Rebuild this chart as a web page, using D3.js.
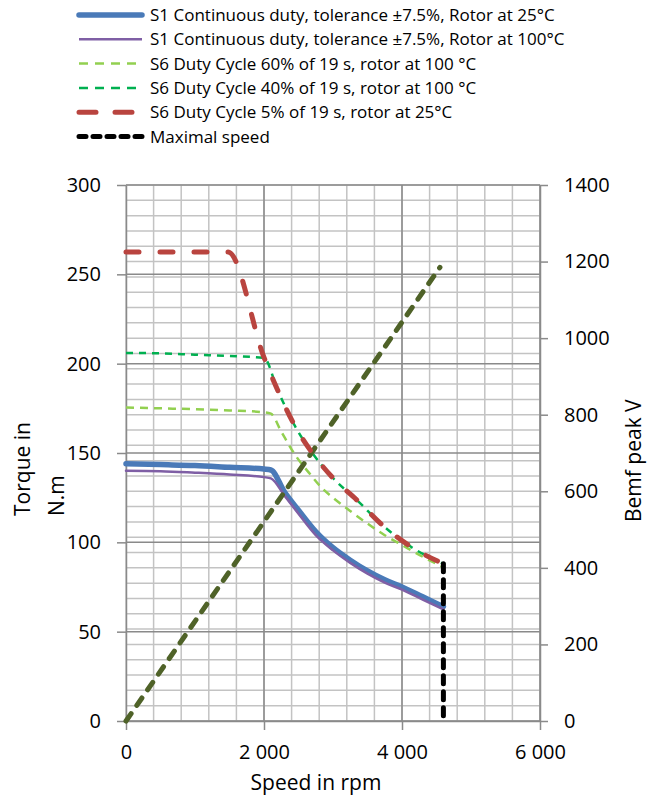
<!DOCTYPE html>
<html>
<head>
<meta charset="utf-8">
<script src="https://cdn.jsdelivr.net/npm/d3@7"></script>
<style>
  body { margin: 0; background: #fff; }
  text { font-family: "Open Sans", sans-serif; fill: #000; }
</style>
</head>
<body>
<div id="chart"></div>
<script>
// S1 continuous duty, rotor at 25°C
const s1ColdSpeed = [0, 500, 1000, 1500, 2000, 2100, 2300, 2500, 2750, 3000, 3250, 3500, 3750, 4000, 4300, 4600];
const s1ColdTorque = [144, 143.5, 143, 142, 141, 140.5, 128, 118, 106, 97, 90, 84, 79, 75, 69.5, 64];
// S1 continuous duty, rotor at 100°C
const s1HotSpeed = [0, 500, 1000, 1500, 2000, 2100, 2300, 2500, 2750, 3000, 3250, 3500, 3750, 4000, 4300, 4600];
const s1HotTorque = [140, 139.8, 139, 138, 136.5, 135.8, 126, 116, 104, 95.5, 88.5, 82.5, 77.5, 73.5, 68, 62.5];
// S6 60%
const s660Speed = [0, 500, 1000, 1500, 2000, 2100, 2250, 2450, 2650, 2850, 3000, 3250, 3500, 3750, 4000, 4250, 4600];
const s660Torque = [175.5, 175, 174.5, 173.8, 172.8, 172, 162, 149, 139, 130, 125, 117.5, 110.5, 104, 98.5, 93, 86];
// S6 40%
const s640Speed = [0, 500, 1000, 1500, 2000, 2200, 2450, 2700, 3000, 3350, 3750, 4150, 4600];
const s640Torque = [206, 205.8, 205, 204.3, 203.2, 185, 165, 150, 136, 123.5, 108.5, 97, 88];
// S6 5%
const s65Speed = [0, 1480, 2000, 2200, 2450, 2700, 3000, 3350, 3750, 4150, 4600];
const s65Torque = [262.5, 262.5, 203.5, 185, 165, 150, 136, 123.5, 108.5, 97, 88];
// maximal speed marker
const maxSpeed = [4600, 4600];
const maxTorque = [0, 88];
// Bemf peak (right axis)
const bemfSpeed = [0, 4550];
const bemfVolts = [0, 1185];

const legendLabels = [
  "S1 Continuous duty, tolerance ±7.5%, Rotor at 25°C",
  "S1 Continuous duty, tolerance ±7.5%, Rotor at 100°C",
  "S6 Duty Cycle 60% of 19 s, rotor at 100 °C",
  "S6 Duty Cycle 40% of 19 s, rotor at 100 °C",
  "S6 Duty Cycle 5% of 19 s, rotor at 25°C",
  "Maximal speed"
];
const speedTicks = [0, 2000, 4000, 6000];
const torqueTicks = [0, 50, 100, 150, 200, 250, 300];
const voltTicks = [0, 200, 400, 600, 800, 1000, 1200, 1400];

const width = 649, height = 805;
const margin = {top: 185, right: 109, bottom: 84, left: 126};

const svg = d3.select('#chart').append('svg')
  .attr('width', width)
  .attr('height', height);

const x = d3.scaleLinear().domain([0, 6000]).range([margin.left, width - margin.right]);
const yT = d3.scaleLinear().domain([0, 300]).range([height - margin.bottom, margin.top]);
const yV = d3.scaleLinear().domain([0, 1400]).range([height - margin.bottom, margin.top]);

const minorGrid = '#c3c3c3', majorGrid = '#8a8a8a';

// grid: minor first, major on top
const grid = svg.append('g').attr('class', 'grid');
grid.selectAll('.vminor').data(d3.range(0, 6001, 400)).enter().append('line')
  .attr('x1', d => x(d)).attr('x2', d => x(d))
  .attr('y1', yT(0)).attr('y2', yT(300))
  .attr('stroke', minorGrid).attr('stroke-width', 1.5);
grid.selectAll('.hminor').data(d3.range(0, 1401, 40)).enter().append('line')
  .attr('x1', x(0)).attr('x2', x(6000))
  .attr('y1', d => yV(d)).attr('y2', d => yV(d))
  .attr('stroke', minorGrid).attr('stroke-width', 1.5);
grid.selectAll('.vmajor').data(speedTicks.slice(1)).enter().append('line')
  .attr('x1', d => x(d)).attr('x2', d => x(d))
  .attr('y1', yT(0)).attr('y2', yT(300))
  .attr('stroke', majorGrid).attr('stroke-width', 1.5);
grid.selectAll('.hmajor').data(torqueTicks).enter().append('line')
  .attr('x1', x(0)).attr('x2', x(6000))
  .attr('y1', d => yT(d)).attr('y2', d => yT(d))
  .attr('stroke', majorGrid).attr('stroke-width', 1.5);

// axes
const fmt = d3.formatLocale({decimal: '.', thousands: '\u00a0', grouping: [3], currency: ['', '']}).format(',');

const leftAxis = svg.append('g')
  .attr('transform', `translate(${margin.left},0)`)
  .call(d3.axisLeft(yT).tickValues(torqueTicks).tickSize(9).tickSizeOuter(0).tickPadding(16));
const rightAxis = svg.append('g')
  .attr('transform', `translate(${width - margin.right},0)`)
  .call(d3.axisRight(yV).tickValues(voltTicks).tickFormat(d3.format('d')).tickSize(8).tickSizeOuter(0).tickPadding(16));
const bottomAxis = svg.append('g')
  .attr('transform', `translate(0,${height - margin.bottom})`)
  .call(d3.axisBottom(x).tickValues(speedTicks).tickFormat(fmt).tickSize(9).tickSizeOuter(0).tickPadding(15));

[leftAxis, rightAxis, bottomAxis].forEach(a => {
  a.select('.domain').attr('stroke', majorGrid).attr('stroke-width', 1.5);
  a.selectAll('.tick line').attr('stroke', majorGrid).attr('stroke-width', 1.5);
  a.selectAll('.tick text').attr('font-size', 20).attr('font-family', '"Open Sans", sans-serif').attr('fill', '#000');
});

// axis titles
svg.append('text')
  .attr('transform', 'translate(30,516) rotate(-90)')
  .attr('font-size', 21)
  .text('Torque in');
svg.append('text')
  .attr('transform', 'translate(64,516) rotate(-90)')
  .attr('font-size', 21)
  .text('N.m');
svg.append('text')
  .attr('transform', 'translate(641,522) rotate(-90)')
  .attr('font-size', 21)
  .text('Bemf peak V');
svg.append('text')
  .attr('x', 316).attr('y', 790)
  .attr('text-anchor', 'middle')
  .attr('font-size', 21)
  .text('Speed in rpm');

// series
const zip = (s, v) => s.map((d, i) => ({s: d, v: v[i]}));
const torqueLine = d3.line().x(d => x(d.s)).y(d => yT(d.v)).curve(d3.curveMonotoneX);
const voltLine = d3.line().x(d => x(d.s)).y(d => yV(d.v));

const series = [
  {data: zip(s1ColdSpeed, s1ColdTorque), color: '#4a7ab8', width: 5.5, dash: null, cap: 'round'},
  {data: zip(s1HotSpeed, s1HotTorque), color: '#7f5fa5', width: 2.5, dash: null, cap: 'round'},
  {data: zip(s660Speed, s660Torque), color: '#92d050', width: 2.5, dash: '8,6', cap: 'butt'},
  {data: zip(s640Speed, s640Torque), color: '#00b050', width: 2.5, dash: '7,6', cap: 'butt'},
];
const plot = svg.append('g').attr('class', 'plot');

plot.selectAll('.torque').data(series).enter().append('path')
  .attr('class', 'torque')
  .attr('fill', 'none')
  .attr('stroke', d => d.color)
  .attr('stroke-width', d => d.width)
  .attr('stroke-dasharray', d => d.dash)
  .attr('stroke-linecap', d => d.cap)
  .attr('stroke-linejoin', 'round')
  .attr('d', d => torqueLine(d.data));

// bemf line
plot.append('path')
  .attr('fill', 'none')
  .attr('stroke', '#4f6228')
  .attr('stroke-width', 5)
  .attr('stroke-dasharray', '9,10')
  .attr('stroke-linecap', 'round')
  .attr('d', voltLine(zip(bemfSpeed, bemfVolts)));

// S6 5% on top
plot.append('path')
  .attr('fill', 'none')
  .attr('stroke', '#b9443f')
  .attr('stroke-width', 5)
  .attr('stroke-dasharray', '13,21')
  .attr('stroke-linecap', 'round')
  .attr('stroke-linejoin', 'round')
  .attr('d', torqueLine(zip(s65Speed, s65Torque)));

// maximal speed
plot.append('path')
  .attr('fill', 'none')
  .attr('stroke', '#000')
  .attr('stroke-width', 5)
  .attr('stroke-dasharray', '8,8')
  .attr('stroke-linecap', 'round')
  .attr('d', d3.line().x(d => x(d.s)).y(d => yT(d.v))(zip(maxSpeed, maxTorque).reverse()));

// legend
const legendStyle = [
  {color: '#4a7ab8', width: 5.5, dash: null, cap: 'round'},
  {color: '#7f5fa5', width: 2.5, dash: null, cap: 'butt'},
  {color: '#92d050', width: 2.5, dash: '9,7', cap: 'butt'},
  {color: '#00b050', width: 2.5, dash: '9,7', cap: 'butt'},
  {color: '#b9443f', width: 5, dash: '17,19', cap: 'round'},
  {color: '#000', width: 5, dash: '7,7', cap: 'round'}
];
const legend = svg.append('g').attr('class', 'legend');
const rows = legend.selectAll('g').data(legendLabels).enter().append('g')
  .attr('transform', (d, i) => `translate(0,${15 + i * 24.3})`);
rows.append('line')
  .attr('x1', 79).attr('x2', 142)
  .attr('stroke', (d, i) => legendStyle[i].color)
  .attr('stroke-width', (d, i) => legendStyle[i].width)
  .attr('stroke-dasharray', (d, i) => legendStyle[i].dash)
  .attr('stroke-linecap', (d, i) => legendStyle[i].cap);
rows.append('text')
  .attr('x', 150).attr('y', 6)
  .attr('font-size', 17)
  .text(d => d);
</script>
</body>
</html>
